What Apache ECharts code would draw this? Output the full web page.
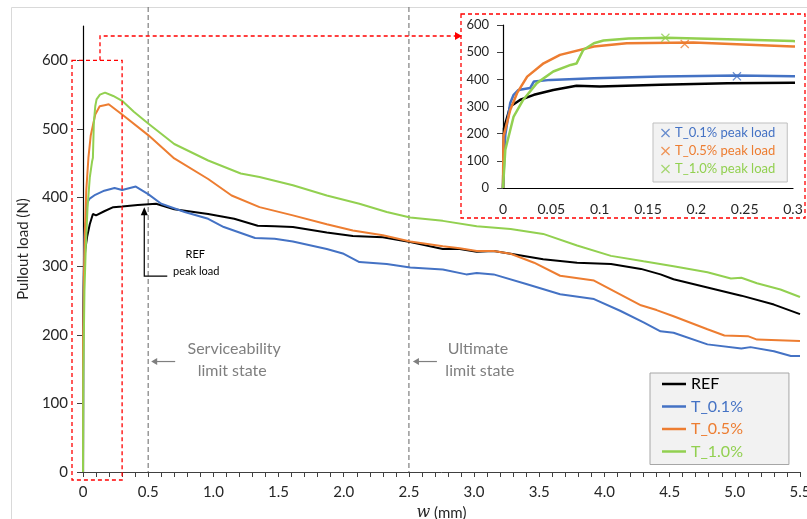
<!DOCTYPE html>
<html>
<head>
<meta charset="UTF-8">
<title>Pullout load</title>
<script src="https://cdn.jsdelivr.net/npm/echarts@6/dist/echarts.min.js"></script>
<style>
html, body { margin: 0; padding: 0; background: #fff; }
#main { width: 807px; height: 519px; }
</style>
</head>
<body>
<div id="main"></div>
<script>
// slip w (mm), pullout load (N)
var refData = [[0,0],[0.001,220],[0.0075,300],[0.018,325],[0.032,343],[0.052,361],[0.076,376],[0.1,374],[0.163,380],[0.232,386],[0.3,387],[0.42,389],[0.56,391],[0.7,383],[0.96,376],[1.16,369],[1.34,359],[1.47,358],[1.61,357],[1.87,349],[2.07,344],[2.3,342],[2.51,335],[2.76,325],[2.89,325],[3.02,321],[3.15,322],[3.28,318],[3.53,310],[3.79,305],[4.05,303],[4.28,296],[4.43,288],[4.53,281],[4.79,269],[5.05,257],[5.3,244],[5.5,230]];
var t01Data = [[0,0],[0.0024,196],[0.0075,313],[0.011,343],[0.016,361],[0.028,368],[0.032,392],[0.049,398],[0.094,404],[0.163,410],[0.242,414],[0.3,411],[0.405,416],[0.5,405],[0.6,391],[0.78,379],[0.96,369],[1.08,357],[1.32,341],[1.47,340],[1.61,336],[1.87,325],[2.0,318],[2.12,306],[2.33,303],[2.51,298],[2.76,295],[2.94,288],[3.02,290],[3.15,288],[3.4,274],[3.66,259],[3.92,252],[4.12,235],[4.3,218],[4.43,205],[4.53,203],[4.79,186],[5.05,180],[5.12,182],[5.3,176],[5.43,169],[5.5,169]];
var t05Data = [[0,0],[0.0005,190],[0.0075,287],[0.0145,349],[0.025,410],[0.042,459],[0.059,490],[0.094,521],[0.128,533],[0.174,535],[0.197,536],[0.3,521],[0.5,491],[0.7,457],[0.96,427],[1.14,403],[1.354,386],[1.61,374],[1.87,361],[2.07,352],[2.3,345],[2.51,336],[2.76,329],[2.89,326],[3.02,322],[3.15,322],[3.28,318],[3.46,305],[3.66,286],[3.92,279],[4.12,259],[4.28,243],[4.4,236],[4.53,227],[4.79,208],[4.92,199],[5.1,198],[5.17,193],[5.5,191]];
var t10Data = [[0,0],[0.0024,141],[0.011,263],[0.021,325],[0.035,386],[0.052,429],[0.07,453],[0.076,458],[0.083,508],[0.094,533],[0.104,543],[0.13,550],[0.169,553],[0.232,548],[0.3,541],[0.39,525],[0.5,508],[0.7,478],[0.96,454],[1.21,435],[1.354,430],[1.61,418],[1.87,403],[2.12,391],[2.33,379],[2.51,371],[2.76,366],[3.02,358],[3.28,354],[3.53,347],[3.79,330],[4.05,315],[4.3,307],[4.53,300],[4.79,291],[4.97,282],[5.05,283],[5.17,275],[5.35,266],[5.5,255]];
// peak load markers in the zoomed view
var peak01 = [[0.242, 411]];
var peak05 = [[0.188, 530]];
var peak10 = [[0.168, 553]];

var names = ['REF', 'T_0.1%', 'T_0.5%', 'T_1.0%'];
var peakNames = ['T_0.1% peak load', 'T_0.5% peak load', 'T_1.0% peak load'];
var colors = ['#000000', '#4472C4', '#ED7D31', '#92D050'];
var curves = [refData, t01Data, t05Data, t10Data];
var peaks = [peak01, peak05, peak10];

var FONT = 'Lato, "Open Sans", sans-serif';
var crossIcon = 'path://M0,1 L1,0 L5,4 L9,0 L10,1 L6,5 L10,9 L9,10 L5,6 L1,10 L0,9 L4,5 Z';
var lineIcon = 'path://M0,0 L24,0 L24,2.5 L0,2.5 Z';

var chart = echarts.init(document.getElementById('main'));

var series = [];
curves.forEach(function (d, i) {
  series.push({
    name: names[i], type: 'line', data: d, symbol: 'none',
    xAxisIndex: 0, yAxisIndex: 0,
    lineStyle: { color: colors[i], width: 2 }, itemStyle: { color: colors[i] }
  });
});
curves.forEach(function (d, i) {
  series.push({
    name: names[i], type: 'line', data: d, symbol: 'none',
    xAxisIndex: 1, yAxisIndex: 1, clip: true,
    lineStyle: { color: colors[i], width: 2.5 }, itemStyle: { color: colors[i] }
  });
});
peaks.forEach(function (d, i) {
  series.push({
    name: peakNames[i], type: 'scatter', data: d,
    xAxisIndex: 1, yAxisIndex: 1,
    symbol: crossIcon, symbolSize: 9,
    itemStyle: { color: colors[i + 1] }, z: 5
  });
});

var option = {
  animation: false,
  backgroundColor: '#fff',
  textStyle: { fontFamily: FONT },
  grid: [
    { left: 83, right: 7, top: 26, bottom: 47, containLabel: false, outerBoundsMode: 'none' },
    { left: 503, right: 14, top: 25, bottom: 331, containLabel: false, outerBoundsMode: 'none' }
  ],
  legend: [
    {
      orient: 'vertical', left: 650, top: 373,
      data: names.map(function (n, i) { return { name: n, icon: lineIcon, textStyle: { color: colors[i] } }; }),
      itemWidth: 24, itemHeight: 16, itemGap: 6.5, symbolKeepAspect: true,
      padding: [3, 46, 5, 12],
      backgroundColor: '#f2f2f2', borderColor: '#a6a6a6', borderWidth: 1,
      textStyle: { fontSize: 16, fontFamily: FONT, lineHeight: 16 },
      selectedMode: false
    },
    {
      orient: 'vertical', left: 653, top: 123,
      data: peakNames.map(function (n, i) { return { name: n, icon: crossIcon, textStyle: { color: colors[i + 1] } }; }),
      itemWidth: 9, itemHeight: 14, itemGap: 4,
      padding: [3, 12, 6, 8],
      backgroundColor: '#f2f2f2', borderColor: '#bfbfbf', borderWidth: 1,
      textStyle: { fontSize: 13, fontFamily: FONT, lineHeight: 14 },
      selectedMode: false
    }
  ],
  xAxis: [
    {
      type: 'value', gridIndex: 0, min: 0, max: 5.5, interval: 0.1,
      name: '{i|w} (mm)', nameLocation: 'middle', nameGap: 30,
      nameTextStyle: {
        fontSize: 15, color: '#262626', fontFamily: FONT,
        rich: { i: { fontStyle: 'italic', fontFamily: '"DejaVu Serif", serif', fontSize: 16, color: '#262626' } }
      },
      axisLine: { onZero: false, lineStyle: { color: '#404040', width: 1 } },
      axisTick: { show: true, inside: false, length: 5, lineStyle: { color: '#404040' } },
      axisLabel: {
        interval: 0, margin: 13, fontSize: 15, color: '#262626', fontFamily: FONT,
        formatter: function (v) {
          var k = Math.round(v * 10);
          if (k % 5 !== 0) return '';
          return k === 0 ? '0' : (k / 10).toFixed(1);
        }
      },
      splitLine: { show: false }
    },
    {
      type: 'value', gridIndex: 1, min: 0, max: 0.3, interval: 0.05,
      axisLine: { onZero: false, lineStyle: { color: '#000', width: 1.2 } },
      axisTick: { show: false },
      axisLabel: {
        margin: 14, fontSize: 14, color: '#262626', fontFamily: FONT,
        formatter: function (v) { return v === 0 ? '0' : String(+v.toFixed(2)); }
      },
      splitLine: { show: false }
    }
  ],
  yAxis: [
    {
      type: 'value', gridIndex: 0, min: 0, max: 650, interval: 100,
      name: 'Pullout load (N)', nameLocation: 'middle', nameGap: 42,
      nameTextStyle: { fontSize: 15, color: '#262626', fontFamily: FONT },
      axisLine: { show: true, onZero: false, lineStyle: { color: '#000', width: 1.2 } },
      axisTick: { show: true, length: 6, lineStyle: { color: '#404040' } },
      axisLabel: { showMaxLabel: false, margin: 15, fontSize: 15, color: '#262626', fontFamily: FONT },
      splitLine: { show: false }
    },
    {
      type: 'value', gridIndex: 1, min: 0, max: 600, interval: 100,
      axisLine: { show: true, onZero: false, lineStyle: { color: '#000', width: 1.2 } },
      axisTick: { show: true, length: 6, lineStyle: { color: '#404040' } },
      axisLabel: { margin: 14, fontSize: 13, color: '#262626', fontFamily: FONT },
      splitLine: { show: false }
    }
  ],
  series: series
};
chart.setOption(option);

// annotations, anchored to the main axes
function px(x, y) { return chart.convertToPixel({ gridIndex: 0 }, [x, y]); }
var o = px(0, 0), b = px(0.3, 600), s = px(0.5, 0), u = px(2.5, 0);
var pk = px(0.47, 386), sy = px(0.5, 161)[1];
var red = '#ff0000', gray = '#7f7f7f';
var redLine = { stroke: red, lineWidth: 1.3, lineDash: [4, 3], fill: null };
var grayDash = { stroke: gray, lineWidth: 1.2, lineDash: [5, 3] };
var annoFont = '16px Lato, "Open Sans", sans-serif';

var g = [
  { type: 'rect', z: -10, silent: true, shape: { x: 11.5, y: 7.5, width: 900, height: 600 }, style: { fill: 'none', stroke: '#d9d9d9', lineWidth: 1 } },
  { type: 'line', z: 1, shape: { x1: s[0], y1: 7, x2: s[0], y2: o[1] }, style: grayDash },
  { type: 'line', z: 1, shape: { x1: u[0], y1: 7, x2: u[0], y2: o[1] }, style: grayDash },
  // zoom box and its pointer to the inset
  { type: 'rect', z: 10, shape: { x: o[0] - 11, y: b[1], width: b[0] - o[0] + 11, height: o[1] + 8 - b[1] }, style: redLine },
  { type: 'polyline', z: 10, shape: { points: [[o[0] + 17, b[1]], [o[0] + 17, 36], [455, 36]] }, style: redLine },
  { type: 'polygon', z: 10, shape: { points: [[455, 32], [462, 36], [455, 40]] }, style: { fill: red } },
  { type: 'rect', z: 10, shape: { x: 461, y: 14, width: 344, height: 204 }, style: redLine },
  // REF peak load callout
  { type: 'polygon', z: 10, shape: { points: [[pk[0] - 3.5, pk[1] + 8], [pk[0], pk[1]], [pk[0] + 3.5, pk[1] + 8]] }, style: { fill: '#000' } },
  { type: 'polyline', z: 10, shape: { points: [[pk[0], pk[1] + 6], [pk[0], pk[1] + 69], [pk[0] + 23, pk[1] + 69]] }, style: { stroke: '#000', lineWidth: 1.2, fill: null } },
  { type: 'text', z: 10, style: { text: 'REF', x: pk[0] + 51, y: pk[1] + 47, align: 'center', verticalAlign: 'middle', font: '11px Lato, sans-serif', fill: '#000' } },
  { type: 'text', z: 10, style: { text: 'peak load', x: pk[0] + 52, y: pk[1] + 64, align: 'center', verticalAlign: 'middle', font: '11px Lato, sans-serif', fill: '#000' } },
  // serviceability limit state
  { type: 'line', z: 10, shape: { x1: s[0] + 27, y1: sy, x2: s[0] + 7, y2: sy }, style: { stroke: gray, lineWidth: 1.2 } },
  { type: 'polygon', z: 10, shape: { points: [[s[0] + 9, sy - 3.5], [s[0] + 3, sy], [s[0] + 9, sy + 3.5]] }, style: { fill: gray } },
  { type: 'text', z: 10, style: { text: 'Serviceability', x: s[0] + 86, y: sy - 13, align: 'center', verticalAlign: 'middle', font: annoFont, fill: gray } },
  { type: 'text', z: 10, style: { text: 'limit state', x: s[0] + 84, y: sy + 9, align: 'center', verticalAlign: 'middle', font: annoFont, fill: gray } },
  // ultimate limit state
  { type: 'line', z: 10, shape: { x1: u[0] + 28, y1: sy, x2: u[0] + 8, y2: sy }, style: { stroke: gray, lineWidth: 1.2 } },
  { type: 'polygon', z: 10, shape: { points: [[u[0] + 10, sy - 3.5], [u[0] + 4, sy], [u[0] + 10, sy + 3.5]] }, style: { fill: gray } },
  { type: 'text', z: 10, style: { text: 'Ultimate', x: u[0] + 69, y: sy - 13, align: 'center', verticalAlign: 'middle', font: annoFont, fill: gray } },
  { type: 'text', z: 10, style: { text: 'limit state', x: u[0] + 71, y: sy + 9, align: 'center', verticalAlign: 'middle', font: annoFont, fill: gray } }
];
chart.setOption({ graphic: g });
</script>
</body>
</html>
